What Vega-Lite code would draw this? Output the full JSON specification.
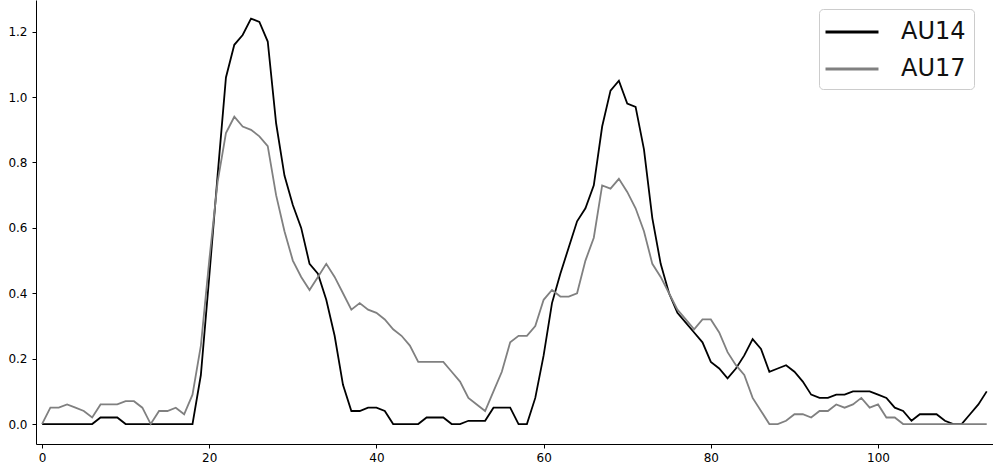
{
  "$schema": "https://vega.github.io/schema/vega-lite/v6.json",
  "width": 957,
  "height": 444,
  "autosize": {"type": "none"},
  "padding": {"left": 36, "top": 0, "right": 0, "bottom": 26},
  "background": "white",
  "config": {"view": {"stroke": null}, "font": "DejaVu Sans"},
  "data": {"values": [
    {"frame": 0, "AU14": 0, "AU17": 0},
    {"frame": 1, "AU14": 0, "AU17": 0.05},
    {"frame": 2, "AU14": 0, "AU17": 0.05},
    {"frame": 3, "AU14": 0, "AU17": 0.06},
    {"frame": 4, "AU14": 0, "AU17": 0.05},
    {"frame": 5, "AU14": 0, "AU17": 0.04},
    {"frame": 6, "AU14": 0, "AU17": 0.02},
    {"frame": 7, "AU14": 0.02, "AU17": 0.06},
    {"frame": 8, "AU14": 0.02, "AU17": 0.06},
    {"frame": 9, "AU14": 0.02, "AU17": 0.06},
    {"frame": 10, "AU14": 0, "AU17": 0.07},
    {"frame": 11, "AU14": 0, "AU17": 0.07},
    {"frame": 12, "AU14": 0, "AU17": 0.05},
    {"frame": 13, "AU14": 0, "AU17": 0},
    {"frame": 14, "AU14": 0, "AU17": 0.04},
    {"frame": 15, "AU14": 0, "AU17": 0.04},
    {"frame": 16, "AU14": 0, "AU17": 0.05},
    {"frame": 17, "AU14": 0, "AU17": 0.03},
    {"frame": 18, "AU14": 0, "AU17": 0.09},
    {"frame": 19, "AU14": 0.15, "AU17": 0.24},
    {"frame": 20, "AU14": 0.45, "AU17": 0.5},
    {"frame": 21, "AU14": 0.76, "AU17": 0.74},
    {"frame": 22, "AU14": 1.06, "AU17": 0.89},
    {"frame": 23, "AU14": 1.16, "AU17": 0.94},
    {"frame": 24, "AU14": 1.19, "AU17": 0.91},
    {"frame": 25, "AU14": 1.24, "AU17": 0.9},
    {"frame": 26, "AU14": 1.23, "AU17": 0.88},
    {"frame": 27, "AU14": 1.17, "AU17": 0.85},
    {"frame": 28, "AU14": 0.92, "AU17": 0.7},
    {"frame": 29, "AU14": 0.76, "AU17": 0.59},
    {"frame": 30, "AU14": 0.67, "AU17": 0.5},
    {"frame": 31, "AU14": 0.6, "AU17": 0.45},
    {"frame": 32, "AU14": 0.49, "AU17": 0.41},
    {"frame": 33, "AU14": 0.46, "AU17": 0.45},
    {"frame": 34, "AU14": 0.38, "AU17": 0.49},
    {"frame": 35, "AU14": 0.27, "AU17": 0.45},
    {"frame": 36, "AU14": 0.12, "AU17": 0.4},
    {"frame": 37, "AU14": 0.04, "AU17": 0.35},
    {"frame": 38, "AU14": 0.04, "AU17": 0.37},
    {"frame": 39, "AU14": 0.05, "AU17": 0.35},
    {"frame": 40, "AU14": 0.05, "AU17": 0.34},
    {"frame": 41, "AU14": 0.04, "AU17": 0.32},
    {"frame": 42, "AU14": 0, "AU17": 0.29},
    {"frame": 43, "AU14": 0, "AU17": 0.27},
    {"frame": 44, "AU14": 0, "AU17": 0.24},
    {"frame": 45, "AU14": 0, "AU17": 0.19},
    {"frame": 46, "AU14": 0.02, "AU17": 0.19},
    {"frame": 47, "AU14": 0.02, "AU17": 0.19},
    {"frame": 48, "AU14": 0.02, "AU17": 0.19},
    {"frame": 49, "AU14": 0, "AU17": 0.16},
    {"frame": 50, "AU14": 0, "AU17": 0.13},
    {"frame": 51, "AU14": 0.01, "AU17": 0.08},
    {"frame": 52, "AU14": 0.01, "AU17": 0.06},
    {"frame": 53, "AU14": 0.01, "AU17": 0.04},
    {"frame": 54, "AU14": 0.05, "AU17": 0.1},
    {"frame": 55, "AU14": 0.05, "AU17": 0.16},
    {"frame": 56, "AU14": 0.05, "AU17": 0.25},
    {"frame": 57, "AU14": 0, "AU17": 0.27},
    {"frame": 58, "AU14": 0, "AU17": 0.27},
    {"frame": 59, "AU14": 0.08, "AU17": 0.3},
    {"frame": 60, "AU14": 0.21, "AU17": 0.38},
    {"frame": 61, "AU14": 0.37, "AU17": 0.41},
    {"frame": 62, "AU14": 0.46, "AU17": 0.39},
    {"frame": 63, "AU14": 0.54, "AU17": 0.39},
    {"frame": 64, "AU14": 0.62, "AU17": 0.4},
    {"frame": 65, "AU14": 0.66, "AU17": 0.5},
    {"frame": 66, "AU14": 0.73, "AU17": 0.57},
    {"frame": 67, "AU14": 0.91, "AU17": 0.73},
    {"frame": 68, "AU14": 1.02, "AU17": 0.72},
    {"frame": 69, "AU14": 1.05, "AU17": 0.75},
    {"frame": 70, "AU14": 0.98, "AU17": 0.71},
    {"frame": 71, "AU14": 0.97, "AU17": 0.66},
    {"frame": 72, "AU14": 0.84, "AU17": 0.59},
    {"frame": 73, "AU14": 0.63, "AU17": 0.49},
    {"frame": 74, "AU14": 0.49, "AU17": 0.45},
    {"frame": 75, "AU14": 0.4, "AU17": 0.4},
    {"frame": 76, "AU14": 0.34, "AU17": 0.35},
    {"frame": 77, "AU14": 0.31, "AU17": 0.32},
    {"frame": 78, "AU14": 0.28, "AU17": 0.29},
    {"frame": 79, "AU14": 0.25, "AU17": 0.32},
    {"frame": 80, "AU14": 0.19, "AU17": 0.32},
    {"frame": 81, "AU14": 0.17, "AU17": 0.28},
    {"frame": 82, "AU14": 0.14, "AU17": 0.22},
    {"frame": 83, "AU14": 0.17, "AU17": 0.18},
    {"frame": 84, "AU14": 0.21, "AU17": 0.15},
    {"frame": 85, "AU14": 0.26, "AU17": 0.08},
    {"frame": 86, "AU14": 0.23, "AU17": 0.04},
    {"frame": 87, "AU14": 0.16, "AU17": 0},
    {"frame": 88, "AU14": 0.17, "AU17": 0},
    {"frame": 89, "AU14": 0.18, "AU17": 0.01},
    {"frame": 90, "AU14": 0.16, "AU17": 0.03},
    {"frame": 91, "AU14": 0.13, "AU17": 0.03},
    {"frame": 92, "AU14": 0.09, "AU17": 0.02},
    {"frame": 93, "AU14": 0.08, "AU17": 0.04},
    {"frame": 94, "AU14": 0.08, "AU17": 0.04},
    {"frame": 95, "AU14": 0.09, "AU17": 0.06},
    {"frame": 96, "AU14": 0.09, "AU17": 0.05},
    {"frame": 97, "AU14": 0.1, "AU17": 0.06},
    {"frame": 98, "AU14": 0.1, "AU17": 0.08},
    {"frame": 99, "AU14": 0.1, "AU17": 0.05},
    {"frame": 100, "AU14": 0.09, "AU17": 0.06},
    {"frame": 101, "AU14": 0.08, "AU17": 0.02},
    {"frame": 102, "AU14": 0.05, "AU17": 0.02},
    {"frame": 103, "AU14": 0.04, "AU17": 0},
    {"frame": 104, "AU14": 0.01, "AU17": 0},
    {"frame": 105, "AU14": 0.03, "AU17": 0},
    {"frame": 106, "AU14": 0.03, "AU17": 0},
    {"frame": 107, "AU14": 0.03, "AU17": 0},
    {"frame": 108, "AU14": 0.01, "AU17": 0},
    {"frame": 109, "AU14": 0, "AU17": 0},
    {"frame": 110, "AU14": 0, "AU17": 0},
    {"frame": 111, "AU14": 0.03, "AU17": 0},
    {"frame": 112, "AU14": 0.06, "AU17": 0},
    {"frame": 113, "AU14": 0.1, "AU17": 0}
  ]},
  "transform": [{"fold": ["AU14", "AU17"], "as": ["series", "value"]}],
  "mark": {"type": "line", "strokeWidth": 1.8},
  "encoding": {
    "x": {
      "field": "frame", "type": "quantitative",
      "scale": {"domain": [-0.72, 113.75], "nice": false, "zero": false},
      "axis": {"title": null, "grid": false, "values": [0, 20, 40, 60, 80, 100],
        "domainColor": "#000000", "tickColor": "#000000", "tickSize": 4, "labelPadding": 4,
        "labelFontSize": 12, "labelColor": "#000000", "labelFont": "DejaVu Sans", "labelFlush": false}
    },
    "y": {
      "field": "value", "type": "quantitative",
      "scale": {"domain": [-0.061, 1.297], "nice": false, "zero": false},
      "axis": {"title": null, "grid": false, "values": [0, 0.2, 0.4, 0.6, 0.8, 1.0, 1.2], "format": ".1f",
        "domainColor": "#000000", "tickColor": "#000000", "tickSize": 4, "labelPadding": 5,
        "labelFontSize": 12, "labelColor": "#000000", "labelFont": "DejaVu Sans", "labelFlush": false}
    },
    "color": {
      "field": "series", "type": "nominal",
      "scale": {"domain": ["AU14", "AU17"], "range": ["#000000", "#808080"]},
      "legend": {"title": null, "orient": "none", "legendX": 783, "legendY": 9,
        "symbolType": "M-2,0H2", "symbolSize": 702, "symbolStrokeWidth": 3, "symbolOffset": 10,
        "labelFontSize": 24, "labelOffset": 34, "labelColor": "#111111", "labelFont": "DejaVu Sans",
        "padding": 8, "rowPadding": 10, "strokeColor": "#cccccc", "cornerRadius": 4, "fillColor": "#ffffff"}
    }
  }
}
